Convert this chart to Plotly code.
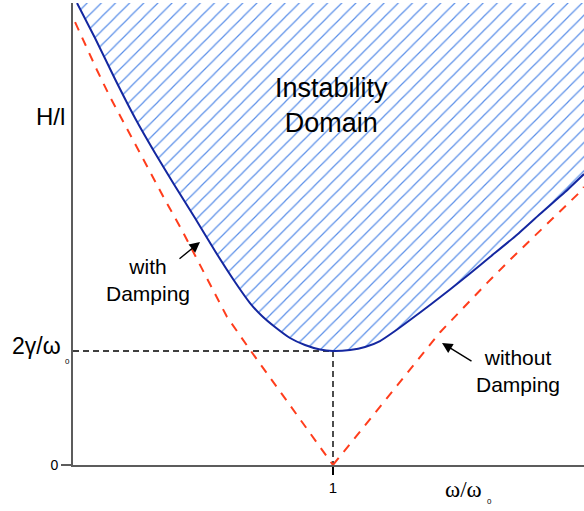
import plotly.graph_objects as go

# Stability boundary with damping (ω/ω0, H/l)
damped_x = [0.0154, 0.0846, 0.1615, 0.2385, 0.3154, 0.3923, 0.4692, 0.5462, 0.6231,
            0.6808, 0.7269, 0.7769, 0.8346, 0.8923, 0.9500, 1.0000,
            1.0654, 1.1231, 1.1808, 1.2385, 1.2962, 1.3731, 1.4500, 1.5269,
            1.6038, 1.7000, 1.7962, 1.8923, 1.9654]
damped_y = [0.8105, 0.7491, 0.6772, 0.6088, 0.5474, 0.4895, 0.4333, 0.3754, 0.3211,
            0.2842, 0.2614, 0.2421, 0.2228, 0.2105, 0.2026, 0.2000,
            0.2018, 0.2070, 0.2175, 0.2351, 0.2544, 0.2807, 0.3079, 0.3360,
            0.3649, 0.4009, 0.4404, 0.4789, 0.5105]

# Boundaries without damping (left and right branches of the V)
undamped_left_x = [0.008, 0.038, 0.092, 0.142, 0.200, 0.296, 0.354, 0.419, 0.592, 0.681, 1.000]
undamped_left_y = [0.777, 0.746, 0.693, 0.646, 0.596, 0.514, 0.465, 0.412, 0.260, 0.202, 0.000]
undamped_right_x = [1.000, 1.327, 1.412, 1.592, 1.681, 1.950, 1.965]
undamped_right_y = [0.000, 0.184, 0.233, 0.319, 0.360, 0.479, 0.488]

omega_res = 1.0        # ω/ω0 at resonance
threshold = 0.2        # 2γ/ω0

X_MAX = 511 / 260
Y_MAX = 462 / 570

W, H = 584, 511
ML, MR, MT, MB = 73, 0, 3, 46
PW, PH = W - ML - MR, H - MT - MB


def px(x):
    return (x - ML) / PW


def py(y):
    return (H - MB - y) / PH


SANS = "Liberation Sans, Arial, sans-serif"
SERIF = "Liberation Serif, Times New Roman, serif"

fig = go.Figure()

# hatched instability domain above the damped boundary
fig.add_trace(go.Scatter(
    x=damped_x + [X_MAX, damped_x[0]],
    y=damped_y + [Y_MAX + 0.05, Y_MAX + 0.05],
    mode="lines", line=dict(width=0), fill="toself",
    fillcolor="rgba(0,0,0,0)",
    fillpattern=dict(shape="/", fgcolor="#5b8fe8", fgopacity=1,
                     bgcolor="rgba(0,0,0,0)", size=10, solidity=0.12),
    hoverinfo="skip", showlegend=False,
))

# reference dashes at the threshold and resonance
fig.add_trace(go.Scatter(
    x=[0, omega_res, omega_res], y=[threshold, threshold, 0],
    mode="lines", line=dict(color="black", width=1.4, dash="6px,4px"),
    hoverinfo="skip", showlegend=False, cliponaxis=False,
))

for xs, ys in [(undamped_left_x, undamped_left_y), (undamped_right_x, undamped_right_y)]:
    fig.add_trace(go.Scatter(
        x=xs, y=ys, mode="lines",
        line=dict(color="#ff3d1c", width=2, dash="9px,8px"),
        hoverinfo="skip", showlegend=False,
    ))

fig.add_trace(go.Scatter(
    x=damped_x, y=damped_y, mode="lines",
    line=dict(color="#1427a0", width=2, shape="spline", smoothing=0.5),
    hoverinfo="skip", showlegend=False,
))

annotations = [
    dict(text="Instability<br>Domain", x=px(331), y=py(106),
         font=dict(size=27, family=SANS, color="black")),
    dict(text="with<br>Damping", x=px(148), y=py(280),
         font=dict(size=21, family=SANS, color="black")),
    dict(text="without<br>Damping", x=px(518), y=py(371),
         font=dict(size=21, family=SANS, color="black")),
    dict(text="H/l", x=px(50), y=py(117),
         font=dict(size=24, family=SANS, color="black")),
    dict(text="2γ/ω", xanchor="right", x=px(63), y=py(346),
         font=dict(size=23, family=SANS, color="black")),
    dict(text="0", xanchor="left", x=px(63), y=py(361),
         font=dict(size=8, family=SANS, color="black")),
    dict(text="ω/ω", xanchor="right", x=px(484), y=py(489),
         font=dict(size=23, family=SERIF, color="black")),
    dict(text="0", xanchor="left", x=px(485), y=py(502),
         font=dict(size=8, family=SANS, color="black")),
]
for a in annotations:
    a.setdefault("xanchor", "center")
    a.setdefault("yanchor", "middle")
    a.update(showarrow=False, xref="paper", yref="paper")

arrows = [
    ((200, 242), (178, 260)),
    ((442, 343), (473, 362)),
]
for (hx, hy), (tx, ty) in arrows:
    annotations.append(dict(
        text="", showarrow=True, xref="paper", yref="paper",
        axref="pixel", ayref="pixel",
        x=px(hx), y=py(hy), ax=tx - hx, ay=ty - hy,
        arrowhead=2, arrowsize=1.5, arrowwidth=1.4, arrowcolor="black",
        standoff=0, startstandoff=0,
    ))

fig.update_layout(
    width=W, height=H,
    margin=dict(l=ML, r=MR, t=MT, b=MB),
    paper_bgcolor="white", plot_bgcolor="white",
    annotations=annotations,
    xaxis=dict(range=[0, X_MAX], showgrid=False, zeroline=False,
               showline=True, linecolor="#5c5c5c", linewidth=2,
               tickvals=[omega_res], ticktext=["1"], ticks="outside",
               ticklen=8, tickwidth=1.5, tickcolor="black",
               tickfont=dict(size=15, family=SANS, color="black")),
    yaxis=dict(range=[0, Y_MAX], showgrid=False, zeroline=False,
               showline=True, linecolor="#5c5c5c", linewidth=2,
               tickvals=[0], ticktext=["0"], ticks="outside",
               ticklen=10, tickwidth=2, tickcolor="#5c5c5c",
               tickfont=dict(size=14, family=SANS, color="black")),
)

fig.write_html("out.html")
